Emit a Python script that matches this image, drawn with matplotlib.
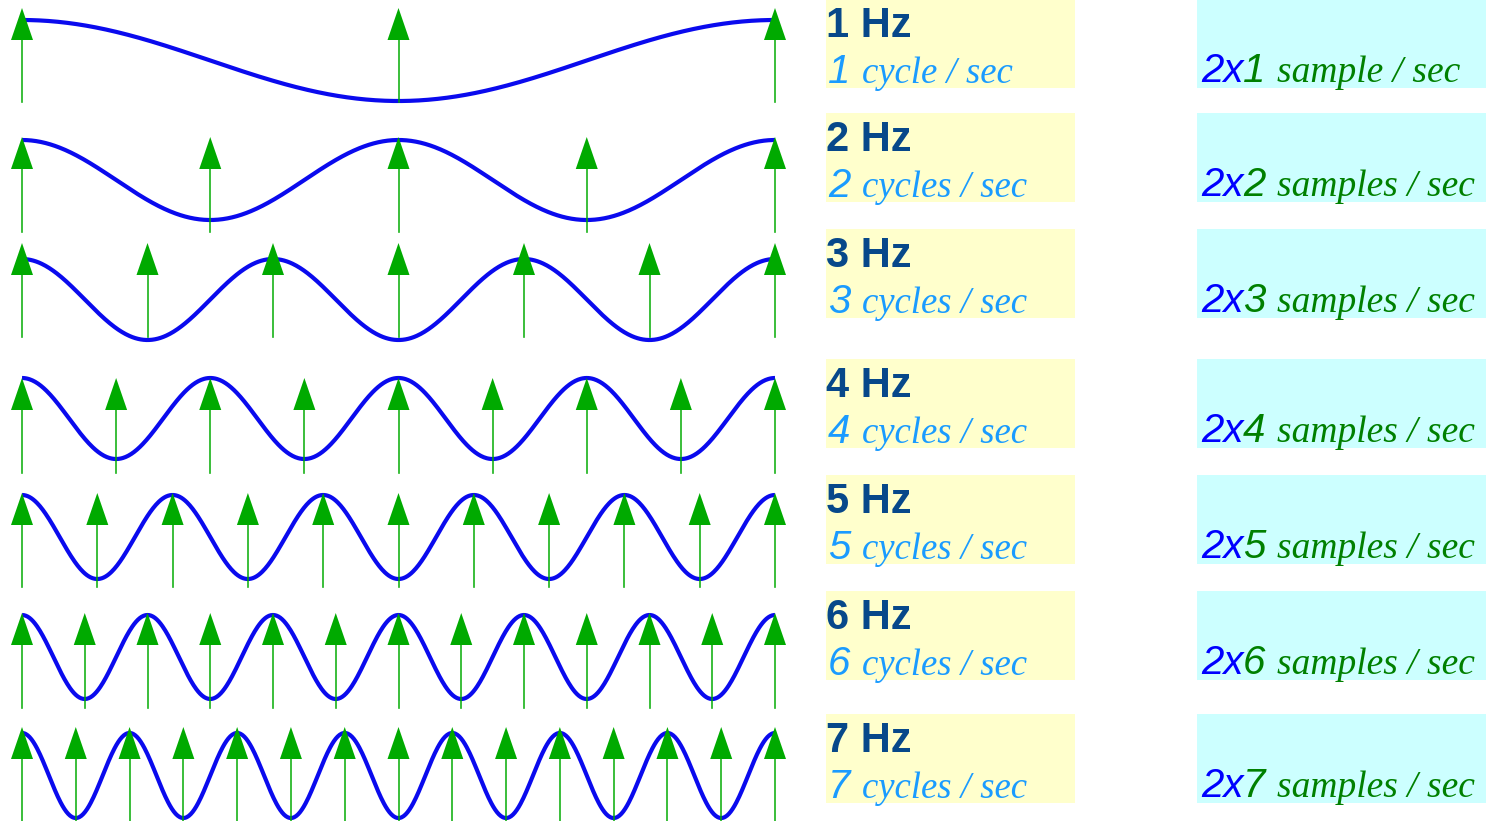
"""Sampling at twice the signal frequency: cosines of 1..7 Hz with their sample points."""

import matplotlib.pyplot as plt
import numpy as np

# data
freqs = [1, 2, 3, 4, 5, 6, 7]
hz_labels = [f"{f} Hz" for f in freqs]
cycle_words = ["cycle / sec"] + ["cycles / sec"] * 6
sample_words = ["sample / sec"] + ["samples / sec"] * 6

# layout (pixels, y grows downward)
W, H = 1486, 821
x_left, x_right = 22, 775
wave_top = [20, 140, 259, 378, 495, 615, 733]
wave_bot = [101, 220, 340, 459, 579, 699, 818]
arrow_tip = [8, 137, 243, 378, 493, 613, 727]
arrow_bot = [102, 232, 337, 473, 587, 708, 822]
box_top = [-1, 113, 229, 359, 475, 591, 714]
box_h = 89

BLUE = "#0a0aee"
GREEN = "#00aa00"
HZ_COLOR = "#07488a"
CYCLE_COLOR = "#1a9bff"

fig = plt.figure(figsize=(W / 100, H / 100), dpi=100)
ax = fig.add_axes([0, 0, 1, 1])
ax.set_xlim(0, W)
ax.set_ylim(H, 0)
ax.axis("off")

for i, f in enumerate(freqs):
    # wave
    t = np.linspace(0, 1, 800)
    mid = (wave_top[i] + wave_bot[i]) / 2
    amp = (wave_bot[i] - wave_top[i]) / 2
    ax.plot(x_left + (x_right - x_left) * t, mid - amp * np.cos(2 * np.pi * f * t),
            color=BLUE, lw=3.0, solid_capstyle="butt", zorder=2)

    # samples: 2f per second, endpoints included
    ts = np.linspace(0, 1, 2 * f + 1)
    for x in x_left + (x_right - x_left) * ts:
        ax.plot([x, x], [arrow_bot[i], arrow_tip[i] + 30], color=GREEN, lw=1.2,
                alpha=0.9, zorder=3)
        ax.fill([x - 11, x + 11, x], [arrow_tip[i] + 32, arrow_tip[i] + 32, arrow_tip[i]],
                color=GREEN, lw=0, zorder=4)

    # labels
    top = box_top[i]
    ax.add_patch(plt.Rectangle((826, top), 249, box_h, color="#ffffcc", lw=0, zorder=1))
    ax.add_patch(plt.Rectangle((1197, top), 289, box_h, color="#ccffff", lw=0, zorder=1))

    ax.text(826, top + 38, hz_labels[i], fontsize=30, fontweight="bold",
            family="Liberation Sans", color=HZ_COLOR, va="baseline", zorder=5)
    ax.text(828, top + 84, str(f), fontsize=29, style="italic",
            family="Liberation Sans", color=CYCLE_COLOR, va="baseline", zorder=5)
    ax.text(862, top + 84, cycle_words[i], fontsize=26.5, style="italic",
            family="Liberation Serif", color=CYCLE_COLOR, va="baseline", zorder=5)

    ax.text(1201, top + 83, "2x", fontsize=29, style="italic",
            family="Liberation Sans", color="#0000ff", va="baseline", zorder=5)
    ax.text(1243, top + 83, str(f), fontsize=29, style="italic",
            family="Liberation Sans", color="#008000", va="baseline", zorder=5)
    ax.text(1277, top + 83, sample_words[i], fontsize=27, style="italic",
            family="Liberation Serif", color="#008000", va="baseline", zorder=5)

fig.savefig("out.png", dpi=100, facecolor="white")
